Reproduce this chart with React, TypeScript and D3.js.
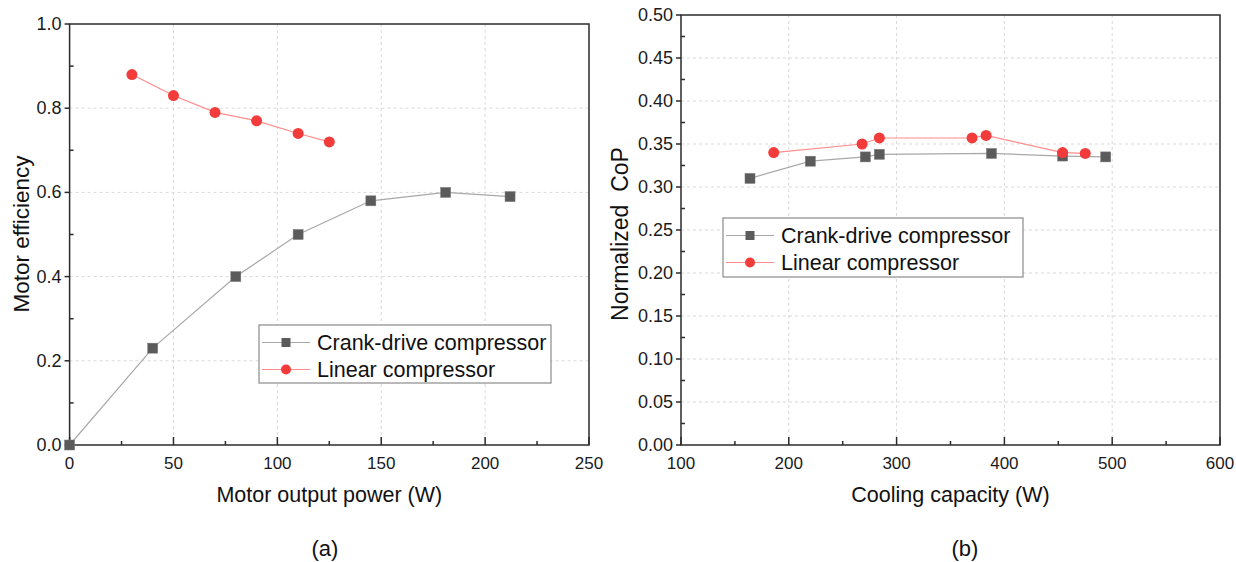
import React from "react";
import * as d3 from "d3";

// ---------- data ----------
const powerCrank = [0, 40, 80, 110, 145, 181, 212];
const effCrank = [0, 0.23, 0.4, 0.5, 0.58, 0.6, 0.59];
const powerLinear = [30, 50, 70, 90, 110, 125];
const effLinear = [0.88, 0.83, 0.79, 0.77, 0.74, 0.72];

const capCrank = [164, 220, 271, 284, 388, 454, 494];
const copCrank = [0.31, 0.33, 0.335, 0.338, 0.339, 0.336, 0.335];
const capLinear = [186, 268, 284, 370, 383, 454, 475];
const copLinear = [0.34, 0.35, 0.357, 0.357, 0.36, 0.34, 0.339];

const seriesNames = ["Crank-drive compressor", "Linear compressor"];

const aXTicks = [0, 50, 100, 150, 200, 250];
const aXMinor = [25, 75, 125, 175, 225];
const aYTicks = [0, 0.2, 0.4, 0.6, 0.8, 1.0];
const aYMinor = [0.1, 0.3, 0.5, 0.7, 0.9];

const bXTicks = [100, 200, 300, 400, 500, 600];
const bXMinor = [150, 250, 350, 450, 550];
const bYTicks = [0, 0.05, 0.1, 0.15, 0.2, 0.25, 0.3, 0.35, 0.4, 0.45, 0.5];
const bYMinor = [0.025, 0.075, 0.125, 0.175, 0.225, 0.275, 0.325, 0.375, 0.425, 0.475];

// ---------- styles ----------
const FONT = "'Liberation Sans', Arial, sans-serif";
const GRAY_MARK = "#5b5b5b";
const GRAY_LINE = "#a8a8a8";
const RED_MARK = "#f23b3b";
const RED_LINE = "#ff8c8c";
const AXIS = "#2b2b2b";

type PanelProps = {
  x0: number; x1: number; y0: number; y1: number;
  xDomain: [number, number]; yDomain: [number, number];
  xTicks: number[]; xMinor: number[]; yTicks: number[]; yMinor: number[];
  xFmt: (v: number) => string; yFmt: (v: number) => string;
  xTitle: string; yTitle: string; yTitleX: number; yTitleY: number; yTitleSize: number;
  tag: string; tagX: number;
  crankX: number[]; crankY: number[]; linX: number[]; linY: number[];
  legend: { x: number; y: number; w: number; h: number };
};

function Panel(p: PanelProps) {
  const xs = d3.scaleLinear().domain(p.xDomain).range([p.x0, p.x1]);
  const ys = d3.scaleLinear().domain(p.yDomain).range([p.y1, p.y0]);
  const line = d3
    .line<[number, number]>()
    .x((d) => xs(d[0]))
    .y((d) => ys(d[1]));
  const crank = p.crankX.map((v, i) => [v, p.crankY[i]] as [number, number]);
  const lin = p.linX.map((v, i) => [v, p.linY[i]] as [number, number]);
  const sq = 10;
  const r = 5.5;
  const cx = (p.x0 + p.x1) / 2;
  const lg = p.legend;
  return (
    <g>
      {/* grid */}
      {p.xTicks
        .filter((t) => t !== p.xDomain[0] && t !== p.xDomain[1])
        .map((t) => (
          <line key={"gx" + t} x1={xs(t)} x2={xs(t)} y1={p.y0} y2={p.y1}
            stroke="#d9d9d9" strokeWidth={1} strokeDasharray="3,3" />
        ))}
      {p.yTicks
        .filter((t) => t !== p.yDomain[0] && t !== p.yDomain[1])
        .map((t) => (
          <line key={"gy" + t} x1={p.x0} x2={p.x1} y1={ys(t)} y2={ys(t)}
            stroke="#d9d9d9" strokeWidth={1} strokeDasharray="3,3" />
        ))}
      {/* frame */}
      <rect x={p.x0} y={p.y0} width={p.x1 - p.x0} height={p.y1 - p.y0}
        fill="none" stroke={AXIS} strokeWidth={1.5} />
      {/* x ticks (inward) */}
      {p.xTicks.map((t) => (
        <line key={"xt" + t} x1={xs(t)} x2={xs(t)} y1={p.y1} y2={p.y1 - 8} stroke={AXIS} strokeWidth={1.5} />
      ))}
      {p.xMinor.map((t) => (
        <line key={"xm" + t} x1={xs(t)} x2={xs(t)} y1={p.y1} y2={p.y1 - 4} stroke={AXIS} strokeWidth={1.5} />
      ))}
      {/* y ticks: major outward, minor inward */}
      {p.yTicks.map((t) => (
        <line key={"yt" + t} x1={p.x0 - 5} x2={p.x0} y1={ys(t)} y2={ys(t)} stroke={AXIS} strokeWidth={1.5} />
      ))}
      {p.yMinor.map((t) => (
        <line key={"ym" + t} x1={p.x0} x2={p.x0 + 4} y1={ys(t)} y2={ys(t)} stroke={AXIS} strokeWidth={1.5} />
      ))}
      {/* tick labels */}
      {p.xTicks.map((t) => (
        <text key={"xl" + t} x={xs(t)} y={p.y1 + 18} textAnchor="middle" dominantBaseline="central"
          fontSize={17} fill="#1a1a1a" fontFamily={FONT}>{p.xFmt(t)}</text>
      ))}
      {p.yTicks.map((t) => (
        <text key={"yl" + t} x={p.x0 - 8} y={ys(t)} textAnchor="end" dominantBaseline="central"
          fontSize={18} fill="#1a1a1a" fontFamily={FONT}>{p.yFmt(t)}</text>
      ))}
      {/* titles */}
      <text x={cx} y={495} textAnchor="middle" dominantBaseline="central" fontSize={21.5}
        fill="#111" fontFamily={FONT}>{p.xTitle}</text>
      <text transform={`translate(${p.yTitleX},${p.yTitleY}) rotate(-90)`} textAnchor="middle"
        dominantBaseline="central" fontSize={p.yTitleSize} fill="#111" fontFamily={FONT} style={{ whiteSpace: "pre" }}>
        {p.yTitle}
      </text>
      <text x={p.tagX} y={548} textAnchor="middle" dominantBaseline="central" fontSize={22}
        fill="#111" fontFamily={FONT}>{p.tag}</text>
      {/* series */}
      <path d={line(crank) || ""} fill="none" stroke={GRAY_LINE} strokeWidth={1.2} />
      <path d={line(lin) || ""} fill="none" stroke={RED_LINE} strokeWidth={1.2} />
      {crank.map((d, i) => (
        <rect key={"cs" + i} x={xs(d[0]) - sq / 2} y={ys(d[1]) - sq / 2} width={sq} height={sq}
          fill={GRAY_MARK} stroke="#777" strokeWidth={0.5} />
      ))}
      {lin.map((d, i) => (
        <circle key={"lc" + i} cx={xs(d[0])} cy={ys(d[1])} r={r} fill={RED_MARK} />
      ))}
      {/* legend */}
      <rect x={lg.x} y={lg.y} width={lg.w} height={lg.h} fill="#fff" stroke="#8a8a8a" strokeWidth={1.2} />
      {seriesNames.map((name, i) => {
        const yy = lg.y + 17.5 + i * 27;
        const isCrank = i === 0;
        return (
          <g key={name}>
            <line x1={lg.x + 3} x2={lg.x + 51} y1={yy} y2={yy} stroke={isCrank ? GRAY_LINE : RED_LINE} strokeWidth={1.2} />
            {isCrank ? (
              <rect x={lg.x + 27 - 4.5} y={yy - 4.5} width={9} height={9} fill={GRAY_MARK} />
            ) : (
              <circle cx={lg.x + 27} cy={yy} r={5} fill={RED_MARK} />
            )}
            <text x={lg.x + 58} y={yy} dominantBaseline="central" fontSize={21.5} fill="#111" fontFamily={FONT}>
              {name}
            </text>
          </g>
        );
      })}
    </g>
  );
}

export default function App() {
  return (
    <svg width={1236} height={562} style={{ position: "absolute", left: 0, top: 0, background: "#fff" }}>
      <rect x={0} y={0} width={1236} height={562} fill="#fff" />
      <Panel
        x0={69.6} x1={589} y0={24} y1={445}
        xDomain={[0, 250]} yDomain={[0, 1]}
        xTicks={aXTicks} xMinor={aXMinor} yTicks={aYTicks} yMinor={aYMinor}
        xFmt={(v) => d3.format("d")(v)} yFmt={(v) => d3.format(".1f")(v)}
        xTitle="Motor output power (W)" yTitle="Motor efficiency" yTitleX={21} yTitleY={234} yTitleSize={22.5}
        tag="(a)" tagX={325}
        crankX={powerCrank} crankY={effCrank} linX={powerLinear} linY={effLinear}
        legend={{ x: 259, y: 325, w: 292, h: 58 }}
      />
      <Panel
        x0={681} x1={1220} y0={15} y1={445}
        xDomain={[100, 600]} yDomain={[0, 0.5]}
        xTicks={bXTicks} xMinor={bXMinor} yTicks={bYTicks} yMinor={bYMinor}
        xFmt={(v) => d3.format("d")(v)} yFmt={(v) => d3.format(".2f")(v)}
        xTitle="Cooling capacity (W)" yTitle={"Normalized  CoP"} yTitleX={620} yTitleY={234} yTitleSize={23}
        tag="(b)" tagX={965}
        crankX={capCrank} crankY={copCrank} linX={capLinear} linY={copLinear}
        legend={{ x: 723, y: 218, w: 300, h: 59 }}
      />
    </svg>
  );
}
